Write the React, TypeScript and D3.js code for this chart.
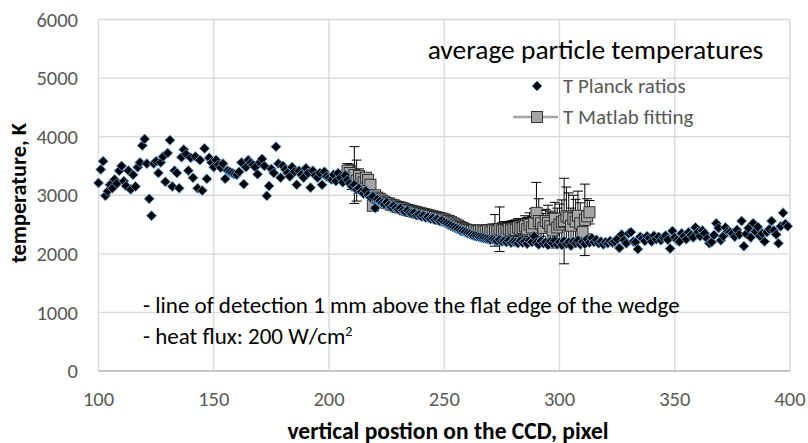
import React from "react";
import * as d3 from "d3";

// ---- data ----
const xTicks = [100, 150, 200, 250, 300, 350, 400];
const yTicks = [0, 1000, 2000, 3000, 4000, 5000, 6000];

// T Planck ratios: one value per CCD pixel, starting at pixel 100
const planckStart = 100;
const planckT = [
  3210, 3440, 3580, 2990, 3070, 3180, 3120, 3270, 3200, 3420,
  3500, 3240, 3160, 3420, 3100, 3350, 3150, 3480, 3560, 3850,
  3960, 3540, 2940, 2650, 3540, 3580, 3380, 3560, 3660, 3230,
  3720, 3940, 3150, 3420, 3380, 3120, 3650, 3780, 3700, 3420,
  3640, 3300, 3660, 3120, 3600, 3080, 3800, 3280, 3640, 3560,
  3480, 3600, 3520, 3470, 3540, 3280, 3420, 3400, 3380, 3360,
  3350, 3400, 3560, 3190, 3480, 3600, 3550, 3520, 3480, 3360,
  3560, 3620, 3500, 2990, 3160, 3450, 3380, 3830, 3540, 3300,
  3500, 3440, 3380, 3320, 3480, 3400, 3180, 3420, 3350, 3300,
  3460, 3380, 3130, 3420, 3340, 3300, 3380, 3180, 3400, 3320,
  3300, 3270, 3350, 3240, 3380, 3300, 3220, 3340, 3260, 3200,
  3150, 3180, 3100, 3120, 3060, 3030, 3080, 3000, 2960, 2980,
  2780, 2930, 2900, 2870, 2850, 2880, 2830, 2800, 2820, 2780,
  2760, 2780, 2740, 2720, 2740, 2700, 2690, 2700, 2660, 2670,
  2640, 2650, 2620, 2630, 2600, 2610, 2580, 2590, 2560, 2570,
  2540, 2520, 2500, 2480, 2460, 2440, 2420, 2400, 2390, 2370,
  2350, 2340, 2320, 2310, 2300, 2290, 2280, 2270, 2260, 2250,
  2240, 2250, 2230, 2220, 2240, 2210, 2220, 2200, 2230, 2190,
  2210, 2200, 2180, 2220, 2190, 2210, 2170, 2230, 2200, 2300,
  2190, 2160, 2220, 2180, 2200, 2150, 2210, 2180, 2230, 2160,
  2200, 2150, 2220, 2170, 2200, 2140, 2210, 2180, 2230, 2160,
  2200, 2170, 2250, 2190, 2270, 2200, 2240, 2180, 2210, 2160,
  2200, 2180, 2220, 2190, 2210, 2250, 2100, 2330, 2230, 2180,
  2350, 2370, 2210, 2200, 2080, 2290, 2260, 2220, 2300, 2270,
  2210, 2310, 2250, 2290, 2230, 2280, 2310, 2240, 2090, 2390,
  2280, 2230, 2210, 2350, 2300, 2250, 2370, 2320, 2280, 2450,
  2370, 2300, 2400, 2350, 2260, 2180, 2200, 2320, 2520, 2440,
  2230, 2300, 2450, 2380, 2370, 2350, 2290, 2410, 2330, 2560,
  2130, 2340, 2440, 2280, 2520, 2380, 2460, 2300, 2350, 2210,
  2370, 2420, 2560, 2400, 2330, 2180, 2470, 2700, 2510, 2470,
];

// T Matlab fitting: one value per pixel, starting at pixel 208, with error
const matlabStart = 208;
const matlabT = [
  3420, 3380, 3300, 3345, 3250, 3330, 3280, 3220, 3300, 3260,
  3180, 2820, 3000, 2960, 2940, 2910, 2890, 2870, 2860, 2840,
  2830, 2810, 2800, 2790, 2780, 2760, 2750, 2740, 2730, 2720,
  2710, 2700, 2690, 2680, 2670, 2660, 2650, 2640, 2630, 2620,
  2610, 2600, 2590, 2570, 2560, 2540, 2520, 2500, 2480, 2460,
  2440, 2420, 2410, 2400, 2390, 2400, 2380, 2390, 2400, 2380,
  2390, 2400, 2380, 2410, 2400, 2390, 2420, 2400, 2410, 2390,
  2420, 2400, 2430, 2410, 2450, 2420, 2440, 2470, 2420, 2500,
  2450, 2520, 2700, 2560, 2520, 2440, 2560, 2530, 2470, 2400,
  2600, 2450, 2500, 2540, 2560, 2640, 2620, 2480, 2600, 2550,
  2650, 2520, 2370, 2580, 2640, 2710,
];
const matlabErr = [
  120, 150, 200, 485, 350, 120, 100, 90, 80, 70,
  60, 50, 50, 40, 40, 40, 40, 40, 40, 40,
  40, 40, 40, 40, 40, 40, 40, 40, 40, 40,
  40, 40, 40, 40, 40, 40, 40, 40, 40, 40,
  40, 40, 40, 40, 50, 50, 50, 50, 50, 50,
  60, 60, 60, 60, 70, 80, 70, 80, 90, 70,
  100, 90, 110, 100, 270, 120, 380, 130, 140, 150,
  130, 160, 140, 170, 150, 180, 160, 180, 200, 200,
  190, 250, 520, 380, 220, 250, 200, 300, 260, 300,
  280, 330, 350, 380, 730, 500, 420, 300, 400, 380,
  420, 350, 200, 610, 300, 200,
];

const FONT = "Carlito, Lato, sans-serif";
const W = 808;
const H = 443;

export default function App() {
  const x = d3.scaleLinear().domain([100, 400]).range([98.5, 790]);
  const y = d3.scaleLinear().domain([0, 6000]).range([371, 19.5]);

  const planck = planckT.map((t, i) => ({ x: planckStart + i, t }));
  const matlab = matlabT.map((t, i) => ({ x: matlabStart + i, t, e: matlabErr[i] }));

  const line = d3
    .line<{ x: number; t: number }>()
    .x((d) => x(d.x))
    .y((d) => y(d.t));

  const r = 5;
  const diamond = `M0,${-r}L${r},0L0,${r}L${-r},0Z`;
  const sq = 5.5;

  return (
    <svg
      width={W}
      height={H}
      style={{ position: "fixed", left: 0, top: 0, background: "#fff" }}
      fontFamily={FONT}
    >
      <rect width={W} height={H} fill="#fff" />
      {/* gridlines */}
      {yTicks.map((t) => (
        <line key={"gy" + t} x1={x(100)} x2={x(400)} y1={y(t)} y2={y(t)} stroke="#d9d9d9" strokeWidth={1.3} />
      ))}
      {xTicks.map((t) => (
        <line key={"gx" + t} x1={x(t)} x2={x(t)} y1={y(0)} y2={y(6000)} stroke="#d9d9d9" strokeWidth={1.3} />
      ))}
      <line x1={x(100)} x2={x(400)} y1={y(0)} y2={y(0)} stroke="#bfbfbf" strokeWidth={1.3} />

      {/* tick labels */}
      {yTicks.map((t) => (
        <text key={"ty" + t} x={78} y={y(t)} dy="0.35em" textAnchor="end" fontSize={20.5} fill="#595959">
          {t}
        </text>
      ))}
      {xTicks.map((t) => (
        <text key={"tx" + t} x={x(t)} y={405.5} textAnchor="middle" fontSize={20.5} fill="#595959">
          {t}
        </text>
      ))}

      {/* axis titles */}
      <text x={448} y={438.5} textAnchor="middle" fontSize={23.5} fontWeight="bold" fill="#000">
        vertical postion on the CCD, pixel
      </text>
      <text
        transform={`translate(18,193) rotate(-90)`}
        dy="0.35em"
        textAnchor="middle"
        fontSize={22.3}
        fontWeight="bold"
        fill="#000"
      >
        temperature, K
      </text>

      {/* Matlab fitting series */}
      <path d={line(matlab) || ""} fill="none" stroke="#a5a5a5" strokeWidth={2} />
      {matlab.map((d, i) => (
        <g key={"eb" + i} stroke="#000" strokeWidth={1}>
          <line x1={x(d.x)} x2={x(d.x)} y1={y(d.t - d.e)} y2={y(d.t + d.e)} />
          <line x1={x(d.x) - 5} x2={x(d.x) + 5} y1={y(d.t - d.e)} y2={y(d.t - d.e)} />
          <line x1={x(d.x) - 5} x2={x(d.x) + 5} y1={y(d.t + d.e)} y2={y(d.t + d.e)} />
        </g>
      ))}
      {matlab.map((d, i) => (
        <rect
          key={"sq" + i}
          x={x(d.x) - sq}
          y={y(d.t) - sq}
          width={sq * 2}
          height={sq * 2}
          fill="#a5a5a5"
          stroke="#262626"
          strokeWidth={0.9}
        />
      ))}

      {/* Planck ratios series */}
      {planck.map((d, i) => (
        <path
          key={"pd" + i}
          d={diamond}
          transform={`translate(${x(d.x)},${y(d.t)})`}
          fill="#000"
          stroke="#5b9bd5"
          strokeWidth={1}
        />
      ))}

      {/* chart title */}
      <text x={595.5} y={59} textAnchor="middle" fontSize={27.5} fill="#000">
        average particle temperatures
      </text>

      {/* legend */}
      <path d={diamond} transform="translate(537,86)" fill="#000" stroke="#5b9bd5" strokeWidth={1} />
      <text x={563} y={86} dy="0.35em" fontSize={21} fill="#595959">
        T Planck ratios
      </text>
      <line x1={513} x2={558} y1={117} y2={117} stroke="#a5a5a5" strokeWidth={2.5} />
      <rect x={537 - sq} y={117 - sq} width={sq * 2} height={sq * 2} fill="#a5a5a5" stroke="#262626" strokeWidth={0.9} />
      <text x={563} y={117} dy="0.35em" fontSize={21} fill="#595959">
        T Matlab fitting
      </text>

      {/* annotation */}
      <text x={143} y={313} fontSize={23} fill="#000">
        - line of detection 1 mm above the flat edge of the wedge
      </text>
      <text x={143} y={344} fontSize={23} fill="#000">
        - heat flux: 200 W/cm<tspan dy={-8} fontSize={14}>2</tspan>
      </text>
    </svg>
  );
}
